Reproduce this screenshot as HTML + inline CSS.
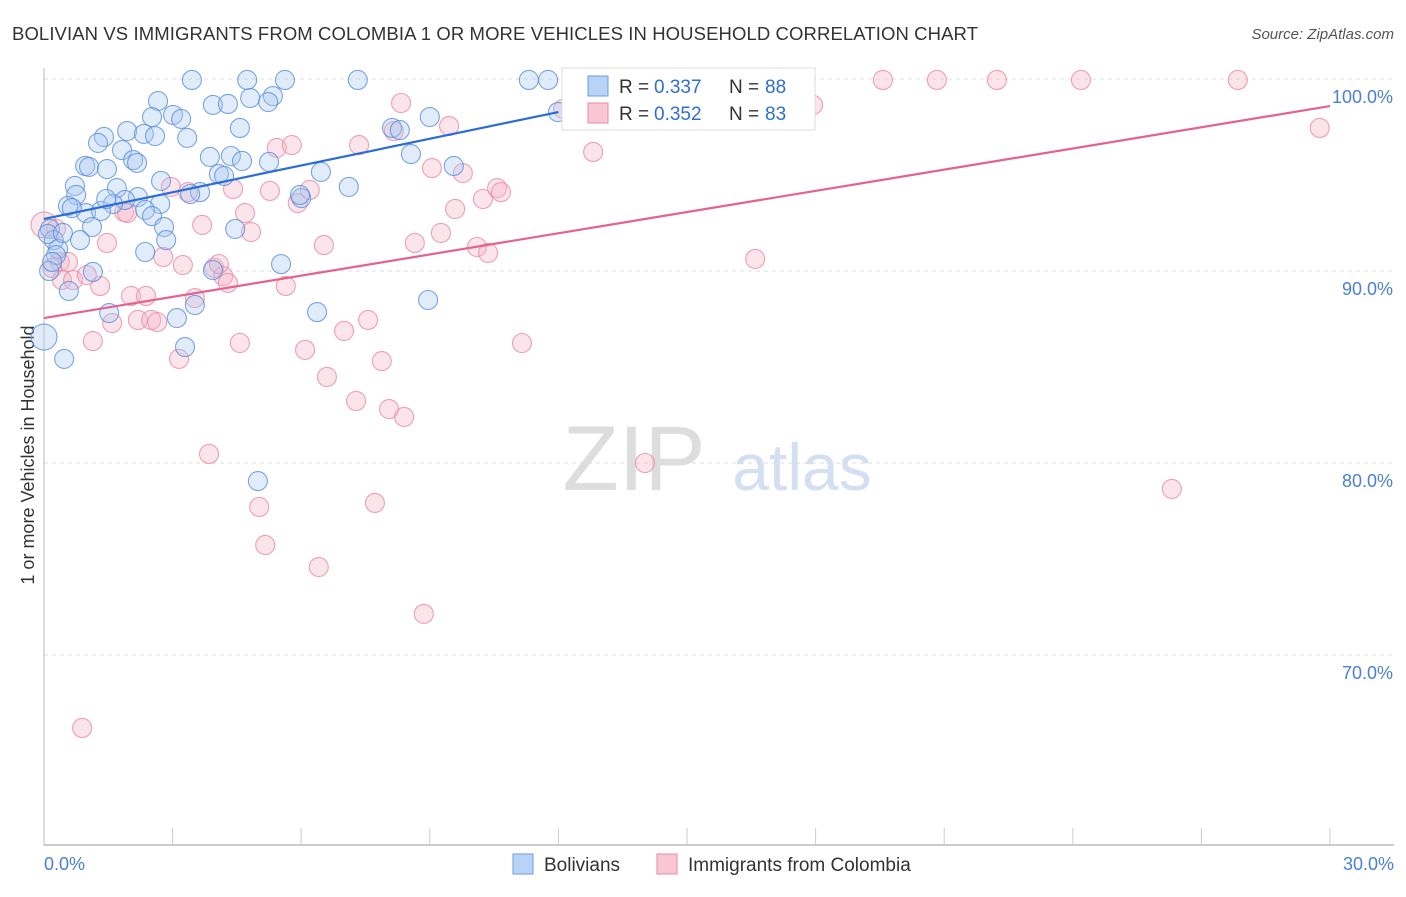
<!DOCTYPE html>
<html><head><meta charset="utf-8">
<style>
body{margin:0;background:#fff;font-family:"Liberation Sans",sans-serif;}
svg text{font-family:"Liberation Sans",sans-serif;}
</style></head>
<body>
<svg id="chart" width="1406" height="892" xmlns="http://www.w3.org/2000/svg">
<text x="12" y="40" font-size="18.5" fill="#333" textLength="966">BOLIVIAN VS IMMIGRANTS FROM COLOMBIA 1 OR MORE VEHICLES IN HOUSEHOLD CORRELATION CHART</text>
<text x="1394" y="39" font-size="15" fill="#555" font-style="italic" text-anchor="end">Source: ZipAtlas.com</text>
<text x="34" y="455" font-size="18" fill="#333" text-anchor="middle" transform="rotate(-90 34 455)">1 or more Vehicles in Household</text>
<g>
<text x="634" y="490" font-size="92" fill="#ddd" font-family="Liberation Serif" text-anchor="middle">ZIP</text>
<text x="802" y="490" font-size="66" fill="#d4e0f2" text-anchor="middle">atlas</text>
</g>
<g id="grid"></g>
<g id="axes"></g>
<g id="pts"></g>
<g id="lines"></g>
<g>
<rect x="562" y="68" width="253" height="62" fill="#fff" stroke="#ddd"/>
<rect x="588" y="76" width="20" height="20" fill="#b8d3f5" stroke="#6a9de0"/>
<text x="619" y="93" font-size="19" fill="#333">R =</text>
<text x="654" y="93" font-size="19" fill="#2f6fd0">0.337</text>
<text x="729" y="93" font-size="19" fill="#333">N =</text>
<text x="765" y="93" font-size="19" fill="#2f6fd0">88</text>
<rect x="588" y="103" width="20" height="20" fill="#f9c6d3" stroke="#e88aa6"/>
<text x="619" y="120" font-size="19" fill="#333">R =</text>
<text x="654" y="120" font-size="19" fill="#2f6fd0">0.352</text>
<text x="729" y="120" font-size="19" fill="#333">N =</text>
<text x="765" y="120" font-size="19" fill="#2f6fd0">83</text>
</g>
<g>
<rect x="513" y="854" width="20" height="20" fill="#b8d3f5" stroke="#6a9de0"/>
<text x="544" y="871" font-size="19" fill="#333">Bolivians</text>
<rect x="657" y="854" width="20" height="20" fill="#f9c6d3" stroke="#e88aa6"/>
<text x="688" y="871" font-size="19" fill="#333">Immigrants from Colombia</text>
</g>
</svg>
<script>
const yTicks=[100,90,80,70];
const yTickLabels=["100.0%","90.0%","80.0%","70.0%"];
const xTickLabels=["0.0%","30.0%"];
const bolX=[3.45,4.74,5.62,7.32,11.31,11.76,2.66,4.81,5.34,3.94,4.29,5.23,3.01,3.20,2.52,4.57,8.12,9.00,1.40,1.94,2.33,2.59,3.34,1.82,1.26,3.87,4.36,4.62,5.25,8.56,2.08,2.17,0.96,1.05,1.47,4.08,4.20,6.46,7.11,9.56,2.73,0.72,1.70,0.75,2.19,1.89,1.61,2.71,3.64,3.41,6.00,2.36,2.52,0.98,1.33,0.56,0.65,1.12,2.80,2.85,4.46,0.14,0.23,0.84,0.33,0.28,2.36,3.94,5.53,1.14,0.12,0.58,3.52,8.96,6.37,1.52,3.10,3.29,0.47,0.0,4.99,11.99,0.09,8.30,5.97,1.45,0.19,0.44];
const bolY=[99.95,99.95,99.95,99.95,99.95,99.95,98.85,99.01,99.11,98.65,98.70,98.80,98.13,97.92,98.02,97.45,97.45,98.02,96.98,97.29,97.14,97.03,96.93,96.30,96.67,95.94,95.99,95.73,95.68,96.09,95.78,95.63,95.47,95.42,95.31,95.05,94.95,95.16,94.38,95.47,94.69,94.43,94.32,93.96,93.85,93.70,93.49,93.49,94.11,94.01,93.80,93.18,92.86,93.02,93.13,93.39,93.28,92.29,92.29,91.61,92.19,92.19,91.61,91.61,91.15,90.83,90.99,90.05,90.36,89.95,90.0,88.96,88.23,88.49,87.86,87.81,87.55,86.04,85.42,86.56,79.06,98.28,91.93,97.34,93.96,93.75,90.47,91.98];
const colX=[0,0.28,0.37,0.56,0.19,0.42,0.68,1.00,1.31,1.59,1.14,2.03,2.38,2.19,2.50,2.64,3.15,2.78,3.24,3.52,3.97,4.18,4.29,4.57,4.69,4.83,3.69,2.96,3.36,4.41,5.27,5.43,5.78,5.92,6.20,6.53,5.64,6.09,6.60,7.00,7.28,7.56,7.88,8.05,8.40,7.72,7.35,8.33,8.16,9.05,8.65,9.26,9.59,9.45,9.77,10.10,10.36,10.24,10.57,10.66,11.15,12.81,13.83,17.94,19.57,20.83,22.23,24.19,27.85,29.76,16.59,14.02,26.31,3.85,5.02,5.16,6.41,8.86,0.89,1.87,1.47,1.94,12.11,4.08];
const colY=[92.40,92.19,90.47,90.47,90.16,89.53,89.53,89.79,89.22,87.29,86.35,88.70,88.70,87.45,87.45,87.34,85.42,90.73,90.31,88.59,90.16,89.74,89.38,86.25,93.02,92.03,92.40,94.38,94.11,94.27,94.17,96.41,96.56,93.54,94.22,91.35,89.22,85.89,84.48,86.88,83.23,87.45,85.31,82.81,82.40,77.92,96.56,98.75,97.29,95.36,91.46,91.98,93.23,97.55,95.10,91.25,90.94,93.75,94.32,94.11,86.25,96.20,99.95,98.65,99.95,99.95,99.95,99.95,99.95,97.45,90.63,80.0,78.65,80.47,77.71,75.73,74.58,72.14,66.20,93.07,91.46,93.02,98.44,90.36];
const bolTrend=[[0,92.71],[12.0,98.28]];
const colTrend=[[0,87.55],[30,98.59]];
const NS="http://www.w3.org/2000/svg";
const sx=v=>44+v/30*1286;
const sy=v=>79+(100-v)*19.2;
function mk(t,a,p){const e=document.createElementNS(NS,t);for(const k in a)e.setAttribute(k,a[k]);document.getElementById(p).appendChild(e);return e;}
yTicks.forEach((t,i)=>{
  const l=mk('line',{x1:44,x2:1394,y1:sy(t),y2:sy(t),stroke:'#ddd','stroke-dasharray':'4,4'},'grid');
  
  
  const tx=mk('text',{x:1393,y:sy(t)+24,'font-size':18,fill:'#4a7fd4','text-anchor':'end'},'axes');
  tx.textContent=yTickLabels[i];
  
  
});
const ax=mk('line',{x1:44,x2:44,y1:68,y2:845,stroke:'#bbb'},'axes');


const bx=mk('line',{x1:44,x2:1394,y1:845,y2:845,stroke:'#bbb','stroke-width':1.5},'axes');


for(let i=1;i<=10;i++){
  const t=mk('line',{x1:sx(i*3),x2:sx(i*3),y1:828,y2:845,stroke:'#ccc'},'axes');
  
  
}
[[0,'start',44],[30,'end',1394]].forEach((d,i)=>{
  const t=mk('text',{x:d[2],y:870,'font-size':18,fill:'#4a7fd4','text-anchor':d[1]},'axes');
  t.textContent=xTickLabels[i];
  
  
});
function pts(X,Y,fill,stroke,name){
  X.forEach((x,i)=>{
    const big=(x===0);
    const c=mk('circle',{cx:sx(x),cy:sy(Y[i]),r:big?13:9.5,fill:fill,stroke:stroke,'stroke-width':1.1,'fill-opacity':0.35,'stroke-opacity':0.8},'pts');
    
    
  });
}
pts(colX,colY,'#f7b3c6','#e88aa6','colombia-point');
pts(bolX,bolY,'#a9c9f2','#5a8fdc','bolivian-point');
const l1=mk('line',{x1:sx(bolTrend[0][0]),y1:sy(bolTrend[0][1]),x2:sx(bolTrend[1][0]),y2:sy(bolTrend[1][1]),stroke:'#2a6dd6','stroke-width':2.2},'lines');


const l2=mk('line',{x1:sx(colTrend[0][0]),y1:sy(colTrend[0][1]),x2:sx(colTrend[1][0]),y2:sy(colTrend[1][1]),stroke:'#e4628d','stroke-width':2.2},'lines');


</script>
</body></html>
